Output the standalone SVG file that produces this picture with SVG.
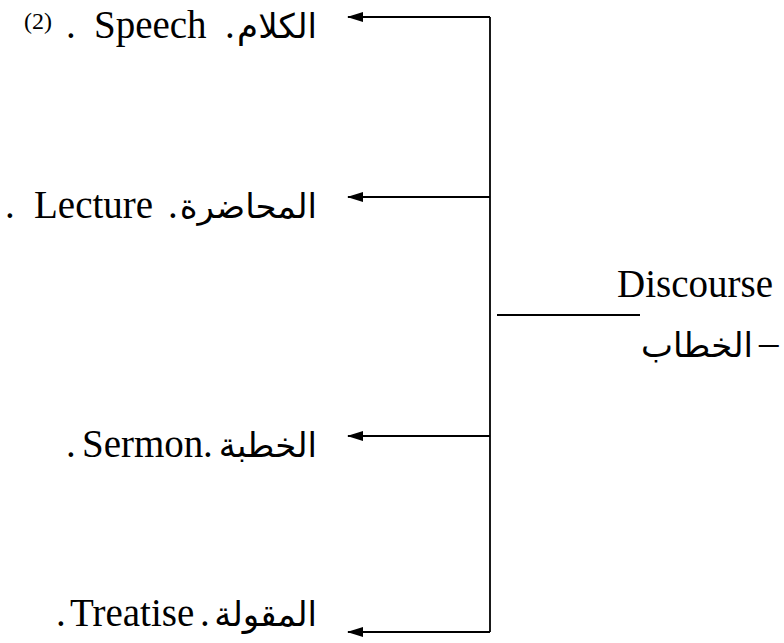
<svg xmlns="http://www.w3.org/2000/svg" width="784" height="643" viewBox="0 0 784 643">
<style>
.t{font-family:"Liberation Serif","Times New Roman",serif;font-size:39px;fill:#000}
.ar{font-family:"DejaVu Sans","Liberation Serif",sans-serif;font-size:34px;fill:#000;text-anchor:end}
.sup{font-family:"Liberation Serif",serif;font-size:24px;fill:#000}
.ln{stroke:#000;stroke-width:1.8;fill:none}
</style>
<defs>
<marker id="ah" markerWidth="16" markerHeight="12" refX="15" refY="5" orient="auto" markerUnits="userSpaceOnUse" viewBox="0 0 16 10">
<path d="M0,0 L16,5 L0,10 Z" fill="#000"/>
</marker>
</defs>
<g id="connectors">
<path class="ln" d="M490,17 L490,632"/>
<path class="ln" d="M490,17 L348,17" marker-end="url(#ah)"/>
<path class="ln" d="M490,197 L348,197" marker-end="url(#ah)"/>
<path class="ln" d="M490,436 L348,436" marker-end="url(#ah)"/>
<path class="ln" d="M490,632 L348,632" marker-end="url(#ah)"/>
<path class="ln" d="M497,315 L640,315"/>
</g>
<g id="root">
<text class="t" x="617" y="297">Discourse</text>
<text class="ar" x="753" y="357">الخطاب</text>
<text class="t" x="759" y="355">–</text>
</g>
<g id="speech">
<text class="sup" x="24" y="29">(2)</text>
<text class="t" y="38"><tspan x="66">.</tspan><tspan x="94">Speech</tspan><tspan x="225">.</tspan></text>
<text class="ar" x="317" y="38">الكلام</text>
</g>
<g id="lecture">
<text class="t" y="218"><tspan x="5">.</tspan><tspan x="34">Lecture</tspan><tspan x="168">.</tspan></text>
<text class="ar" x="317" y="218">المحاضرة</text>
</g>
<g id="sermon">
<text class="t" y="457"><tspan x="66">.</tspan><tspan x="82">Sermon</tspan><tspan x="203">.</tspan></text>
<text class="ar" x="317" y="457">الخطبة</text>
</g>
<g id="treatise">
<text class="t" y="626"><tspan x="56">.</tspan><tspan x="70">Treatise</tspan><tspan x="200">.</tspan></text>
<text class="ar" x="317" y="626">المقولة</text>
</g>
</svg>
